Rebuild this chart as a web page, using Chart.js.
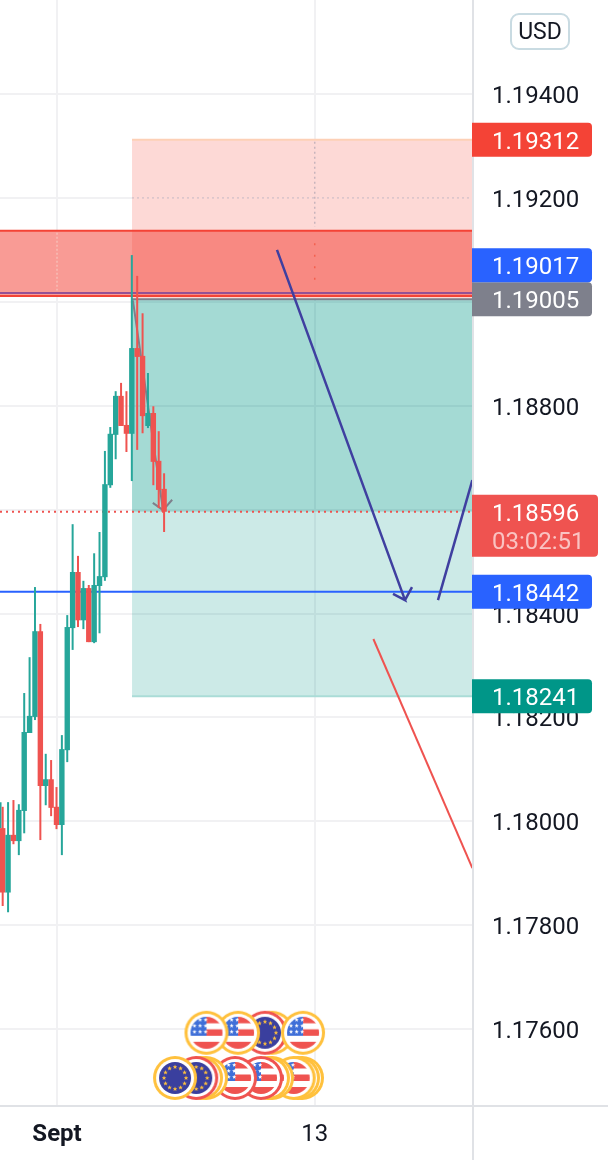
<!DOCTYPE html>
<html>
<head>
<meta charset="utf-8">
<style>
  html, body { margin: 0; padding: 0; background: #fff; }
  canvas { display: block; }
</style>
<script src="https://cdn.jsdelivr.net/npm/chart.js@4/dist/chart.umd.min.js"></script>
</head>
<body>
<canvas id="chart" width="608" height="1160"></canvas>
<script>
// candles, the first one is only a wick sticking in from the left edge
const candleIdx = [-0.4, 0, 1, 2, 3, 4, 5, 6, 7, 8, 9, 10, 11, 12, 13, 14, 15, 16, 17, 18, 19, 20, 21, 22, 23, 24, 25, 26, 27, 28, 29, 30]
const opens = [1.17987, 1.17987, 1.17863, 1.17974, 1.17962, 1.18020, 1.18170, 1.18201, 1.18366, 1.18068, 1.18081, 1.18028, 1.17993, 1.18137, 1.18372, 1.18480, 1.18387, 1.18449, 1.18345, 1.18453, 1.18470, 1.18647, 1.18744, 1.18819, 1.18763, 1.18746, 1.18911, 1.18896, 1.18761, 1.18786, 1.18694, 1.18640]
const highs = [1.18037, 1.18028, 1.18037, 1.18041, 1.18033, 1.18247, 1.18316, 1.18451, 1.18380, 1.18130, 1.18118, 1.18066, 1.18166, 1.18397, 1.18572, 1.18511, 1.18463, 1.18455, 1.18516, 1.18557, 1.18713, 1.18759, 1.18828, 1.18844, 1.18828, 1.19090, 1.19050, 1.18978, 1.18863, 1.18799, 1.18751, 1.18670]
const lows = [1.17987, 1.17837, 1.17825, 1.17956, 1.17935, 1.17977, 1.18170, 1.18195, 1.17964, 1.18031, 1.18010, 1.17985, 1.17935, 1.18114, 1.18330, 1.18374, 1.18370, 1.18345, 1.18343, 1.18362, 1.18463, 1.18642, 1.18697, 1.18761, 1.18711, 1.18655, 1.18715, 1.18747, 1.18757, 1.18647, 1.18603, 1.18557]
const closes = [1.17987, 1.17863, 1.17974, 1.17962, 1.18022, 1.18172, 1.18203, 1.18366, 1.18068, 1.18081, 1.18026, 1.17993, 1.18139, 1.18374, 1.18480, 1.18387, 1.18449, 1.18345, 1.18455, 1.18472, 1.18649, 1.18746, 1.18819, 1.18761, 1.18746, 1.18911, 1.18894, 1.18780, 1.18786, 1.18692, 1.18638, 1.18596]

// axes
const priceTicks = [1.194, 1.192, 1.19, 1.188, 1.186, 1.184, 1.182, 1.18, 1.178, 1.176]
const timeTicks = [10.1, 58]
const timeLabels = ['Sept', '13']

// price tags on the right axis, listed bottom to top
const tagPrices = [1.18241, 1.18442, 1.18596, 1.19005, 1.19017, 1.19312]
const tagTexts = ['1.18241', '1.18442', '1.18596', '1.19005', '1.19017', '1.19312']
const tagCountdowns = ['', '', '03:02:51', '', '', '']
const tagColors = ['#009688', '#2962ff', '#ef5350', '#7e808c', '#2962ff', '#f44336']

// position tool and zone levels
const stopPrice = 1.19312
const entryPrice = 1.19005
const targetPrice = 1.18241
const lastPrice = 1.18596
const alertPrice = 1.18442
const otherPrice = 1.19017
const zoneTop = 1.19137
const zoneBottom = 1.19011
const boxStart = [24.04, 88]
const fullWidth = [-0.5, 88]

// grid lines that only show as dots through the shaded areas
const dotLevel = 1.192
const dotStopY = [1.19308, 1.19144]
const dotZoneLeftY = [1.19133, 1.19022]
const dotZoneRightY = [1.19113, 1.19042]

// hand drawn lines
const arrowX = [50.98, 74.78, 72.55, 74.78, 76.08]
const arrowY = [1.191, 1.18426, 1.18438, 1.18426, 1.18451]
const riseX = [80.91, 87.3]
const riseY = [1.18426, 1.18657]
const fallX = [68.9, 87.3]
const fallY = [1.18351, 1.1791]
const grayX = [24.2, 29.8, 27.9, 29.8, 31.5]
const grayY = [1.19003, 1.18599, 1.18613, 1.18599, 1.18619]

// economic calendar flags, back to front
const flagIdx = [50.06, 48.75, 55.82, 43.74, 37.88, 55.63, 54.89, 54.09, 50.06, 49.31, 48.01, 43.18, 37.79, 36.86, 35.97, 32.03]
const flagPrices = [1.17593, 1.17593, 1.17593, 1.17593, 1.17593, 1.17506, 1.17506, 1.17506, 1.17506, 1.17506, 1.17506, 1.17506, 1.17506, 1.17506, 1.17506, 1.17506]
const flagKinds = ['us', 'eu', 'us', 'us', 'us', 'us', 'us', 'us', 'us', 'us', 'us', 'us', 'us', 'us', 'eu', 'eu']
const flagRings = ['y', 'r', 'y', 'y', 'y', 'y', 'y', 'y', 'y', 'y', 'r', 'r', 'y', 'y', 'r', 'y']

const UP = '#26a69a'
const DOWN = '#ef5350'
const INK = '#131722'
const FONT = 'Roboto'

function star(ctx, x, y, r, color) {
    ctx.fillStyle = color
    ctx.beginPath()
    for (let i = 0; i < 10; i++) {
        const a = -Math.PI / 2 + i * Math.PI / 5
        const rr = i % 2 ? r * 0.45 : r
        ctx.lineTo(x + Math.cos(a) * rr, y + Math.sin(a) * rr)
    }
    ctx.closePath()
    ctx.fill()
}

// one coin shaped flag as an offscreen canvas, used as pointStyle
function makeFlag(kind, ring) {
    const c = document.createElement('canvas')
    c.width = 46
    c.height = 46
    const ctx = c.getContext('2d')
    const m = 23
    ctx.fillStyle = ring === 'y' ? '#ffc13d' : '#ef5350'
    ctx.beginPath(); ctx.arc(m, m, 22, 0, 7); ctx.fill()
    ctx.fillStyle = '#fff'
    ctx.beginPath(); ctx.arc(m, m, 19, 0, 7); ctx.fill()
    ctx.save()
    ctx.beginPath(); ctx.arc(m, m, 16, 0, 7); ctx.clip()
    if (kind === 'eu') {
        ctx.fillStyle = '#3a3f9e'
        ctx.fillRect(0, 0, 46, 46)
        for (let i = 0; i < 12; i++) {
            const a = i * Math.PI / 6
            star(ctx, m + Math.cos(a) * 11, m + Math.sin(a) * 11, 2.4, '#ffc13d')
        }
    } else {
        ctx.fillStyle = '#fff'
        ctx.fillRect(0, 0, 46, 46)
        ctx.fillStyle = '#ef5350'
        ctx.fillRect(m, 7, 16, 6.5)
        ctx.fillRect(m, 19.5, 16, 6.5)
        ctx.fillRect(0, 32, 46, 8)
        ctx.fillStyle = '#3f6fd8'
        ctx.fillRect(6, 6, m - 6, 20)
        for (let r = 0; r < 3; r++) {
            for (let k = 0; k < 3; k++) star(ctx, 11 + k * 5.6, 10 + r * 6, 2.2, '#fff')
        }
    }
    ctx.restore()
    return c
}

const flagImages = flagKinds.map((k, i) => makeFlag(k, flagRings[i]))

function pts(xs, ys) {
    return xs.map((x, i) => ({ x: x, y: ys[i] }))
}

function level(price) {
    return fullWidth.map(x => ({ x: x, y: price }))
}

function lineSet(data, color, width, order, extra) {
    return Object.assign({
        type: 'line',
        data: data,
        borderColor: color,
        borderWidth: width,
        pointRadius: 0,
        tension: 0,
        fill: false,
        order: order
    }, extra || {})
}

function boxSet(top, bottom, color, order) {
    return lineSet(boxStart.map(x => ({ x: x, y: top })), color, 0, order, {
        fill: { value: bottom },
        backgroundColor: color
    })
}

function zoneSet(color, order) {
    return lineSet(level(zoneTop), color, 0, order, {
        fill: { value: zoneBottom },
        backgroundColor: color
    })
}

const candleColors = opens.map((o, i) => closes[i] >= o ? UP : DOWN)

const datasets = [
    zoneSet('#ffffff', 41),
    boxSet(stopPrice, entryPrice, '#fdd9d6', 40),
    boxSet(entryPrice, targetPrice, 'rgba(0,150,136,0.2)', 39),
    boxSet(entryPrice, lastPrice, 'rgba(0,150,136,0.2)', 38),
    lineSet(boxStart.map(x => ({ x: x, y: stopPrice })), '#fdd0b6', 2, 37),
    lineSet(boxStart.map(x => ({ x: x, y: targetPrice })), '#aadcd7', 2, 37),
    lineSet(boxStart.map(x => ({ x: x, y: dotLevel })), '#c4b8c4', 1, 37, { borderDash: [2, 3] }),
    lineSet(pts([58, 58], dotStopY), '#c8b4bc', 1.5, 37, { borderDash: [2, 3] }),
    lineSet(level(otherPrice), '#2962ff', 2, 36),
    zoneSet('rgba(244,67,54,0.53)', 35),
    lineSet(pts([10.1, 10.1], dotZoneLeftY), '#f7b5ae', 2, 34, { borderDash: [2, 2] }),
    lineSet(pts([58, 58], dotZoneRightY), '#f4604f', 1.5, 34, { borderDash: [2, 9.5] }),
    lineSet(level(zoneTop), '#f44336', 2, 34),
    lineSet(level(zoneBottom), '#f44336', 2, 34),
    lineSet(boxStart.map(x => ({ x: x, y: entryPrice })), '#7e808c', 2, 33),
    lineSet(pts(grayX, grayY), '#7e808c', 2, 32),
    lineSet(level(alertPrice), '#2962ff', 2, 31),
    lineSet(level(lastPrice), DOWN, 2, 30, { borderDash: [2, 4] }),
    {
        type: 'bar',
        data: candleIdx.map((x, i) => ({ x: x, y: [lows[i], highs[i]] })),
        backgroundColor: candleColors,
        barThickness: 2,
        grouped: false,
        inflateAmount: 0,
        order: 20
    },
    {
        type: 'bar',
        data: candleIdx.map((x, i) => ({ x: x, y: [opens[i], closes[i]] })),
        backgroundColor: candleColors,
        barThickness: 5.4,
        grouped: false,
        inflateAmount: 0,
        order: 19
    },
    lineSet(pts(arrowX, arrowY), '#3f3fa0', 2.5, 10),
    lineSet(pts(riseX, riseY), '#3f3fa0', 2.5, 10),
    lineSet(pts(fallX, fallY), DOWN, 2, 10),
    {
        type: 'scatter',
        data: pts(flagIdx, flagPrices),
        pointStyle: flagImages,
        pointRadius: 22,
        order: 1
    }
]

// axis frame, price tags and the USD button sit on top of everything
const axisOverlay = {
    id: 'axisOverlay',
    afterDraw(chart) {
        const { ctx, chartArea: { right, bottom }, scales: { y } } = chart
        ctx.save()
        ctx.fillStyle = '#e0e2e6'
        ctx.fillRect(right, 0, 2, chart.height)
        ctx.fillRect(0, bottom, chart.width, 2)

        let prevTop = Infinity
        ctx.textAlign = 'left'
        ctx.textBaseline = 'middle'
        tagPrices.forEach((price, i) => {
            const h = tagCountdowns[i] ? 62 : 34
            let mid = y.getPixelForValue(price)
            let top = mid - 17
            if (top + h > prevTop) {
                top = prevTop - h
                mid = top + 17
            }
            prevTop = top
            ctx.fillStyle = tagColors[i]
            ctx.beginPath()
            ctx.roundRect(right, top, tagCountdowns[i] ? 126 : 120, h, [0, 4, 4, 0])
            ctx.fill()
            ctx.font = '24px ' + FONT
            ctx.fillStyle = '#fff'
            ctx.fillText(tagTexts[i], right + 20, mid + 3)
            if (tagCountdowns[i]) {
                ctx.fillStyle = 'rgba(255,255,255,0.65)'
                ctx.fillText(tagCountdowns[i], right + 20, mid + 31)
            }
        })

        ctx.strokeStyle = '#c9dbe2'
        ctx.lineWidth = 2
        ctx.fillStyle = '#fff'
        ctx.beginPath()
        ctx.roundRect(511, 14, 58, 35, 8)
        ctx.fill()
        ctx.stroke()
        ctx.fillStyle = INK
        ctx.textAlign = 'center'
        ctx.font = '23px ' + FONT
        ctx.fillText('USD', 540, 33)
        ctx.restore()
    }
}

// no label margins, the plot has to reach the canvas edge
function noPadding(scale) {
    scale.paddingTop = 0
    scale.paddingBottom = 0
    scale.paddingLeft = 0
    scale.paddingRight = 0
}

new Chart(document.getElementById('chart'), {
    data: { datasets: datasets },
    options: {
        responsive: false,
        animation: false,
        events: [],
        layout: { padding: 0, autoPadding: false },
        plugins: { legend: { display: false }, tooltip: { enabled: false } },
        scales: {
            x: {
                type: 'linear',
                offset: false,
                min: -0.5,
                max: 87.23,
                border: { display: false },
                grid: { color: '#f1f1f3', lineWidth: 2, drawTicks: false, offset: false },
                afterBuildTicks: scale => { scale.ticks = timeTicks.map(v => ({ value: v })) },
                afterFit: scale => { scale.height = 55; noPadding(scale) },
                ticks: {
                    autoSkip: false,
                    maxRotation: 0,
                    padding: 16,
                    color: INK,
                    font: ctx => ({ family: FONT, size: 24, weight: ctx.index === 0 ? 'bold' : 'normal' }),
                    callback: value => timeLabels[timeTicks.indexOf(value)]
                }
            },
            y: {
                type: 'linear',
                position: 'right',
                min: 1.17454,
                max: 1.19581,
                border: { display: false },
                grid: { color: '#f1f1f3', lineWidth: 2, drawTicks: false },
                afterBuildTicks: scale => { scale.ticks = priceTicks.map(v => ({ value: v })) },
                afterFit: scale => { scale.width = 136; noPadding(scale) },
                ticks: {
                    crossAlign: 'near',
                    padding: 20,
                    labelOffset: 3,
                    color: INK,
                    font: { family: FONT, size: 24 },
                    callback: value => value.toFixed(5)
                }
            }
        }
    },
    plugins: [axisOverlay]
})
</script>
</body>
</html>
